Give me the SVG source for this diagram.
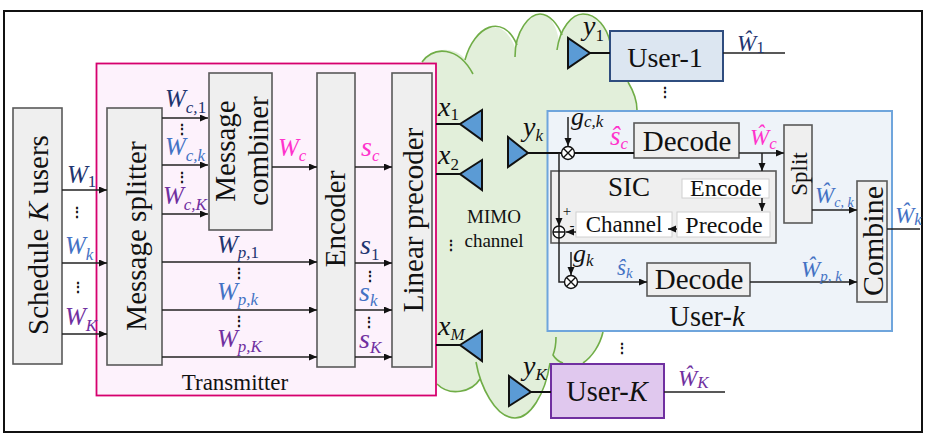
<svg xmlns="http://www.w3.org/2000/svg" width="927" height="445" viewBox="0 0 927 445">
<defs>
<marker id="ah" markerWidth="9" markerHeight="8" refX="8" refY="3.500" orient="auto" markerUnits="userSpaceOnUse"><path d="M0 0L8 3.500L0 7Z" fill="#111"/></marker>
</defs>
<style>
text{font-family:"Liberation Serif",serif;fill:#111}
.box{fill:#efefef;stroke:#595959;stroke-width:1.6}
.wbox{fill:#fff;stroke:#d0d0d0;stroke-width:1}
.ln{fill:none;stroke:#222;stroke-width:1.5}
.ar{fill:none;stroke:#222;stroke-width:1.5;marker-end:url(#ah)}
.thick{fill:none;stroke:#111;stroke-width:2}
.ant{fill:#5b9bd5;stroke:#111;stroke-width:2}
.cl{fill:none;stroke:#70ad47;stroke-width:1.6}
.m{font-style:italic;font-size:25px}
.h{font-style:italic;font-size:23px}
.sb{font-size:17px}
.d{font-size:17px;font-style:normal}
.t{font-size:29px;text-anchor:middle}
.s{font-size:24px;text-anchor:middle}
.dots{font-size:14px;font-weight:bold;text-anchor:middle}
.n{fill:#1f3570}.b{fill:#4472c4}.p{fill:#7030a0}.g{fill:#ff33cc}
</style>
<rect x="4" y="11" width="918" height="421" fill="#fff" stroke="#111" stroke-width="2"/>
<g id="cloud">
<path d="M422 62C434 46 455 46 466 60C474 26 503 12 516 50C515 30 530 14 540 14C550 14 556 25 559 40C562 26 572 14 583 14C597 14 607 28 610 42L628 82C634 92 637 102 637 110L640 200L603 332C600 345 592 357 583 363L550 363C545 395 530 418 515 418C497 418 486 398 480 379C472 392 450 397 437 384Z" fill="#e2efda"/>
<path class="cl" d="M422 62C434 46 458 46 473 74"/>
<path class="cl" d="M465 60C474 26 503 12 517 45"/>
<path class="cl" d="M515 57C515 30 530 14 540 14C550 14 558 25 562 35"/>
<path class="cl" d="M557 50C560 28 572 14 583 14C597 14 607 28 610 42"/>
<path class="cl" d="M628 82C634 92 637 102 637 110"/>
<path class="cl" d="M603 332C600 345 592 357 583 363"/>
<path class="cl" d="M556 337C556 345 555 350 553 355C556 360 560 362 563 363"/>
<path class="cl" d="M476 362C480 385 495 418 515 418C530 418 545 395 550 363"/>
<path class="cl" d="M480 379C472 392 450 397 437 384"/>
</g>
<g id="transmitter"><rect x="96.500" y="63.500" width="339.500" height="332" fill="#fdf2fc" stroke="#d6006e" stroke-width="1.800"/>
<text x="235" y="390" font-size="23" text-anchor="middle">Transmitter</text></g>
<g id="scheduler"><rect class="box" x="13" y="108" width="49" height="256"/><text class="t" transform="translate(48 235) rotate(-90)">Schedule <tspan font-style="italic">K</tspan> users</text></g>
<g id="splitter"><rect class="box" x="107" y="108" width="55" height="257"/><text class="t" transform="translate(146 236) rotate(-90)">Message splitter</text></g>
<g id="combiner"><rect class="box" x="209" y="73" width="63" height="157"/><text class="t" transform="translate(235 151) rotate(-90)">Message</text><text class="t" transform="translate(268 151) rotate(-90)">combiner</text></g>
<g id="encoder"><rect class="box" x="317" y="73" width="38" height="294"/><text class="t" transform="translate(345 219) rotate(-90)">Encoder</text></g>
<g id="precoder"><rect class="box" x="392" y="73" width="40" height="294"/><text class="t" transform="translate(423 220) rotate(-90)">Linear precoder</text></g>
<g id="user-k"><rect x="547.500" y="111" width="344.500" height="220" fill="#eef3f9" stroke="#6fa5dc" stroke-width="2"/><text x="707" y="326" font-size="28.500" text-anchor="middle">User-<tspan font-style="italic">k</tspan></text></g>
<g id="decode-c"><rect class="box" x="634" y="123" width="105" height="35"/><text class="t" x="687" y="151">Decode</text></g>
<g id="split"><rect class="box" x="784" y="125" width="28" height="98"/><text class="t" transform="translate(807 174) rotate(-90)" style="font-size:23px">Split</text></g>
<g id="combine"><rect class="box" x="857" y="181" width="30" height="121"/><text class="t" transform="translate(883 241) rotate(-90)" style="font-size:30px">Combine</text></g>
<g id="sic"><rect class="box" x="551" y="171" width="225" height="72"/><text x="629" y="196" style="font-size:27px" text-anchor="middle">SIC</text></g>
<g id="sic-encode"><rect class="wbox" x="682" y="179" width="87" height="19"/><text class="s" x="726" y="196">Encode</text></g>
<g id="sic-precode"><rect class="wbox" x="677" y="212" width="93" height="25"/><text class="s" x="724" y="233">Precode</text></g>
<g id="sic-channel"><rect class="wbox" x="576" y="212" width="96" height="25"/><text class="s" x="624" y="232" style="font-size:23px">Channel</text></g>
<g id="decode-p"><rect class="box" x="647" y="263" width="103" height="33"/><text class="t" x="699" y="289">Decode</text></g>
<g id="user-1"><rect x="610" y="31" width="113" height="50" fill="#dce6f1" stroke="#2f4d7f" stroke-width="2"/><text class="t" x="665" y="67" style="font-size:28px">User-1</text></g>
<g id="user-K"><rect x="551" y="364" width="113" height="54" fill="#e0c8ee" stroke="#7030a0" stroke-width="2"/><text class="t" x="607" y="401" style="font-size:28.500px">User-<tspan font-style="italic">K</tspan></text></g>
<g id="connectors">
<path class="ar" d="M62 190H107"/><path class="ar" d="M62 263H107"/><path class="ar" d="M62 334H107"/>
<path class="ar" d="M162 118H208"/><path class="ar" d="M162 165H208"/><path class="ar" d="M162 214H208"/>
<path class="ar" d="M162 262H317"/><path class="ar" d="M162 310H317"/><path class="ar" d="M162 357H317"/>
<path class="ar" d="M272 167H317"/><path class="ar" d="M355 167H392"/><path class="ar" d="M355 263H392"/><path class="ar" d="M355 310H392"/><path class="ar" d="M355 357H392"/>
<path class="thick" d="M436 124H460M436 174H460M436 345H460M528 153H634M590 53H610M531 392H551"/>
<path class="ln" d="M723 53H785M664 392H725M887 229H920"/>
<path class="ar" d="M568 117V146"/><path class="ar" d="M739 153H784"/><path class="ar" d="M762 153V171"/><path class="ar" d="M762 198V211"/>
<path class="ar" d="M677 229H668"/><path class="ar" d="M576 232H566"/><path class="ar" d="M559 153V226"/>
<path class="ln" d="M559 238V282H565"/><path class="ar" d="M571 252V275"/><path class="ar" d="M577 282H647"/>
<path class="ar" d="M750 282H857"/><path class="ar" d="M812 210H857"/>
</g>
<g id="antennas">
<path class="ant" d="M460 124L482 110V140Z"/><path class="ant" d="M460 174L482 160V190Z"/><path class="ant" d="M460 345L482 331V361Z"/>
<path class="ant" d="M528 153L508 137V167Z"/><path class="ant" d="M590 53L568 38V68Z"/><path class="ant" d="M531 392L509 376V406Z"/>
</g>
<g id="mixers" fill="#fff" stroke="#111" stroke-width="1.400">
<circle cx="568" cy="153" r="6.500"/><path d="M563.500 148.500l9 9m0-9l-9 9"/>
<circle cx="571" cy="282" r="6.500"/><path d="M566.500 277.500l9 9m0-9l-9 9"/>
<circle cx="559" cy="232" r="6"/><path d="M553 232h12M559 226v12"/>
</g>
<g id="labels">
<text class="m n" x="67" y="183">W<tspan class="d" dy="4">1</tspan></text>
<text class="m b" x="65" y="254">W<tspan class="sb" dy="6">k</tspan></text>
<text class="m p" x="65" y="325">W<tspan class="sb" dy="6">K</tspan></text>
<text class="m n" x="165" y="107">W<tspan class="sb" dy="6">c,</tspan><tspan class="d">1</tspan></text>
<text class="m b" x="165" y="155">W<tspan class="sb" dy="6">c,k</tspan></text>
<text class="m p" x="163" y="204">W<tspan class="sb" dy="6">c,K</tspan></text>
<text class="m n" x="217" y="253">W<tspan class="sb" dy="5">p,</tspan><tspan class="d">1</tspan></text>
<text class="m b" x="217" y="300">W<tspan class="sb" dy="5">p,k</tspan></text>
<text class="m p" x="217" y="347">W<tspan class="sb" dy="5">p,K</tspan></text>
<text class="m g" x="278" y="156">W<tspan class="sb" dy="5">c</tspan></text>
<text class="m g" x="361" y="156" style="font-size:28px">s<tspan class="sb" dy="5">c</tspan></text>
<text class="m n" x="360" y="254" style="font-size:28px">s<tspan class="d" dy="6">1</tspan></text>
<text class="m b" x="359" y="301" style="font-size:28px">s<tspan class="sb" dy="5">k</tspan></text>
<text class="m p" x="359" y="348" style="font-size:28px">s<tspan class="sb" dy="5">K</tspan></text>
<text class="m" x="438" y="116" style="font-size:28px">x<tspan class="d" dy="4">1</tspan></text>
<text class="m" x="438" y="164" style="font-size:28px">x<tspan class="d" dy="6">2</tspan></text>
<text class="m" x="438" y="335" style="font-size:28px">x<tspan class="sb" dy="5">M</tspan></text>
<text class="m" x="523" y="136" style="font-size:28px">y<tspan class="sb" dy="5">k</tspan></text>
<text class="m" x="583" y="35" style="font-size:28px">y<tspan class="d" dy="6">1</tspan></text>
<text class="m" x="523" y="375" style="font-size:28px">y<tspan class="sb" dy="5">K</tspan></text>
<text class="m" x="571" y="125" style="font-size:26px">g<tspan class="sb" dy="2">c,k</tspan></text>
<text class="m" x="573" y="262" style="font-size:26px">g<tspan class="sb" dy="4">k</tspan></text>
<text class="m g" x="610" y="145" style="font-size:27px">ŝ<tspan class="sb" dy="4">c</tspan></text>
<text class="m b" x="617" y="275" style="font-size:23px">ŝ<tspan class="sb" dy="3" style="font-size:15px">k</tspan></text>
<text class="h g" x="750" y="145">Ŵ<tspan class="sb" dy="4">c</tspan></text>
<text class="h b" x="815" y="203">Ŵ<tspan class="sb" dy="4" style="font-size:14px">c, k</tspan></text>
<text class="h b" x="801" y="277">Ŵ<tspan class="sb" dy="4" style="font-size:15px">p, k</tspan></text>
<text class="h b" x="895" y="223">Ŵ<tspan class="sb" dy="2">k</tspan></text>
<text class="h n" x="737" y="51">Ŵ<tspan class="d" dy="2">1</tspan></text>
<text class="h p" x="678" y="386">Ŵ<tspan class="sb" dy="2">K</tspan></text>
<text x="567" y="216" font-size="15" text-anchor="middle">+</text><text x="572" y="230" font-size="15" text-anchor="middle">-</text>
<text x="494" y="223" font-size="19" text-anchor="middle">MIMO</text>
<text x="494" y="247" font-size="19" text-anchor="middle">channel</text>
</g>
<g id="ellipses">
<text class="dots" x="77" y="217">⋮</text><text class="dots" x="78" y="292">⋮</text>
<text class="dots" x="182" y="134">⋮</text><text class="dots" x="182" y="182">⋮</text>
<text class="dots" x="239" y="278">⋮</text><text class="dots" x="239" y="326">⋮</text>
<text class="dots" x="370" y="281">⋮</text><text class="dots" x="369" y="327">⋮</text>
<text class="dots" x="451" y="250">⋮</text>
<text class="dots" x="665" y="97">⋮</text><text class="dots" x="622" y="353">⋮</text>
</g>
</svg>
